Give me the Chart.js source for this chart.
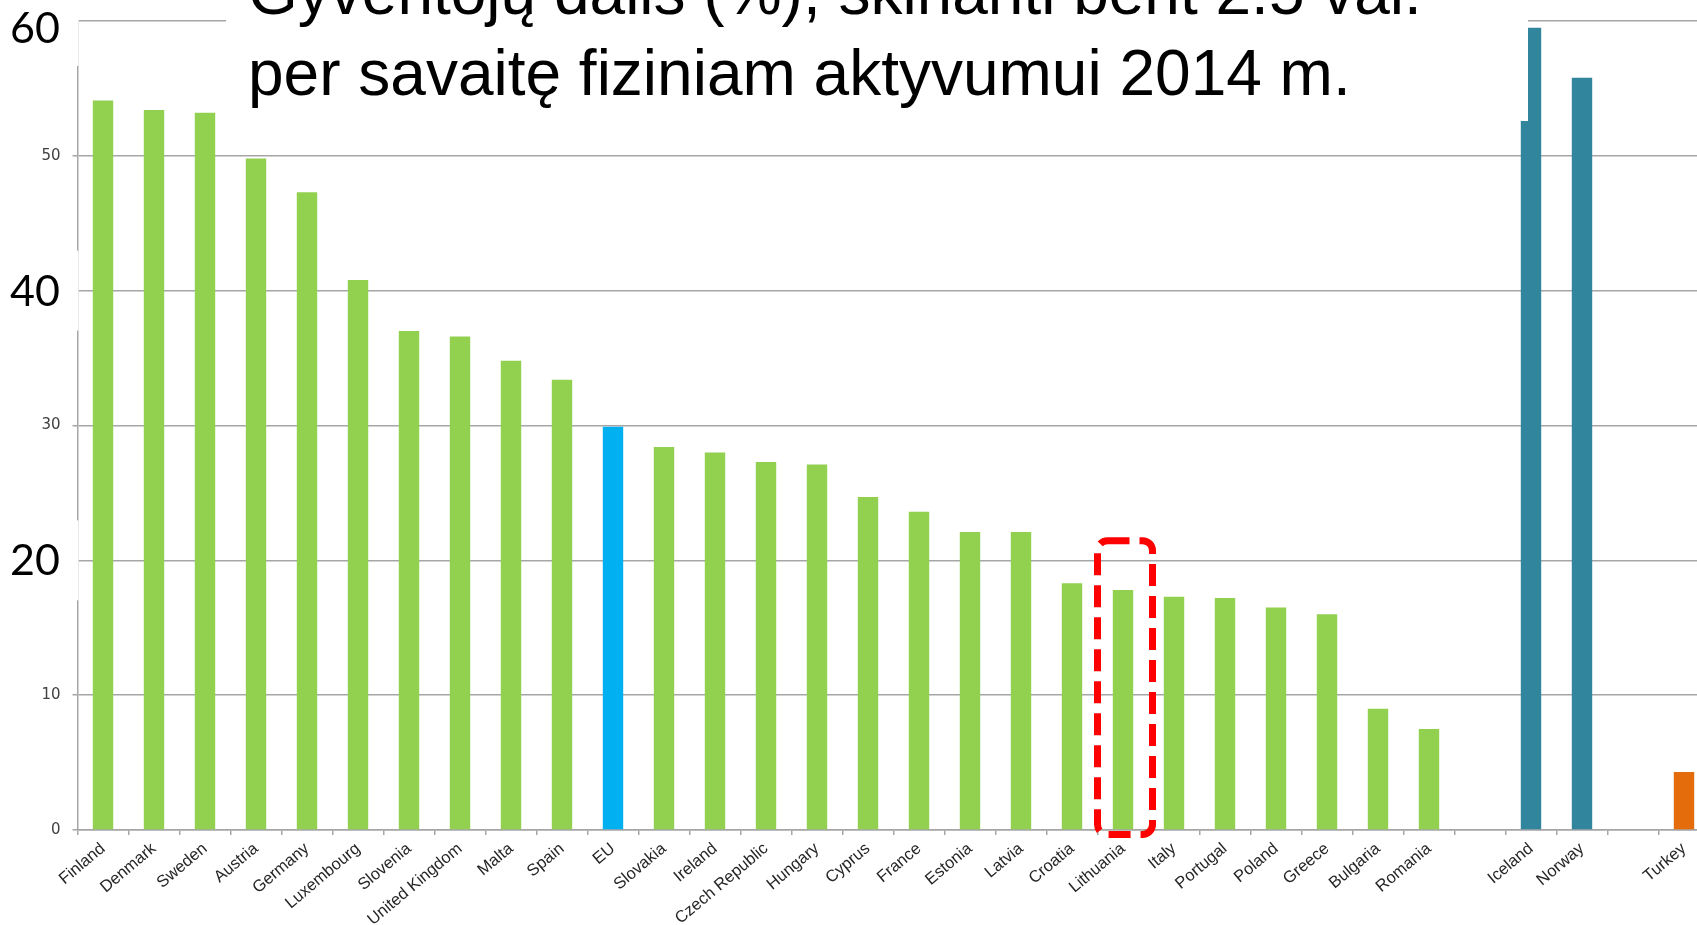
<!DOCTYPE html>
<html lang="lt">
<head>
<meta charset="utf-8">
<title>Fizinis aktyvumas 2014 m.</title>
<script src="https://cdn.jsdelivr.net/npm/chart.js@4.4.1/dist/chart.umd.min.js"></script>
<style>
    html, body { margin: 0; padding: 0; background: #fff; overflow: hidden; }
    #wrap { width: 1712px; height: 925px; }
</style>
</head>
<body>
<div id="wrap"><canvas id="chartAktyvumas" width="1712" height="925"></canvas></div>
<script>
// duomenys
const salys = [
    'Finland', 'Denmark', 'Sweden', 'Austria', 'Germany', 'Luxembourg', 'Slovenia',
    'United Kingdom', 'Malta', 'Spain', 'EU', 'Slovakia', 'Ireland', 'Czech Republic',
    'Hungary', 'Cyprus', 'France', 'Estonia', 'Latvia', 'Croatia', 'Lithuania', 'Italy',
    'Portugal', 'Poland', 'Greece', 'Bulgaria', 'Romania', '', 'Iceland', 'Norway', '', 'Turkey'
];
const procentai = [
    54.1, 53.4, 53.2, 49.8, 47.3, 40.8, 37.0,
    36.6, 34.8, 33.4, 29.9, 28.4, 28.0, 27.3,
    27.1, 24.7, 23.6, 22.1, 22.1, 18.3, 17.8, 17.3,
    17.2, 16.5, 16.0, 9.0, 7.5, null, 59.5, 55.8, null, 4.3
];
const asiesZingsnis = 10;
const asiesMax = 60;
const dideliosZymes = [20, 40, 60];
const pavadinimas = [
    'Gyventojų dalis (%), skirianti bent 2.5 val.',
    'per savaitę fiziniam aktyvumui 2014 m.'
];
const paryskinta = 'Lithuania';

const ES = ['EU'];
const EEE = ['Iceland', 'Norway'];
const kandidates = ['Turkey'];

const spalva = (salis) => {
    if (ES.includes(salis)) return '#00b0f0';
    if (EEE.includes(salis)) return '#31859c';
    if (kandidates.includes(salis)) return '#e46c0a';
    return '#92d050';
};

const pilka = '#a6a6a6';

const uzdangos = {
    id: 'uzdangos',
    afterDraw(chart) {
        const { ctx } = chart;
        const x = chart.scales.x;
        const y = chart.scales.y;
        ctx.save();

        // pavadinimo langelis uzdengia grafiko virsu
        ctx.fillStyle = '#ffffff';
        ctx.fillRect(226, 0, 1302, 121);
        ctx.fillStyle = '#000000';
        ctx.font = '64px "Liberation Sans", Arial, sans-serif';
        ctx.textAlign = 'left';
        ctx.textBaseline = 'alphabetic';
        ctx.fillText(pavadinimas[0], 248, 14);
        ctx.fillText(pavadinimas[1], 248, 95);

        // didelės ašies žymės
        dideliosZymes.forEach(v => {
            const py = y.getPixelForValue(v);
            const virsus = v === asiesMax ? 0 : py - 40;
            const apacia = v === asiesMax ? 66 : py + 40;
            ctx.fillStyle = '#ffffff';
            ctx.fillRect(0, virsus, 78.5, apacia - virsus);
            ctx.fillStyle = '#000000';
            ctx.font = '43px Lato, "Open Sans", sans-serif';
            ctx.textAlign = 'right';
            ctx.textBaseline = 'middle';
            ctx.fillText(String(v), 60, Math.max(py + 1, 29));
        });

        // raudonas punktyrinis rėmelis
        const i = salys.indexOf(paryskinta);
        const cx = x.getPixelForValue(i);
        const top = y.getPixelForValue(21.46);
        const bottom = y.getPixelForValue(0) + 4.5;
        ctx.strokeStyle = '#ff0000';
        ctx.lineWidth = 7;
        ctx.setLineDash([22, 10]);
        ctx.beginPath();
        ctx.roundRect(cx - 25.5, top, 55, bottom - top, 10);
        ctx.stroke();

        ctx.restore();
    }
};

const canvas = document.getElementById('chartAktyvumas');
const ctx = canvas.getContext('2d');

const chartAktyvumas = new Chart(ctx, {
    type: 'bar',
    data: {
        labels: salys,
        datasets: [{
            label: 'Gyventojų dalis (%)',
            data: procentai,
            backgroundColor: salys.map(spalva),
            borderWidth: 0,
            barPercentage: 0.4,
            categoryPercentage: 1.0
        }]
    },
    options: {
        responsive: false,
        animation: false,
        devicePixelRatio: 1,
        layout: { padding: { top: 21, right: 2.5, left: 0, bottom: 0 } },
        plugins: {
            legend: { display: false },
            tooltip: { enabled: false },
            title: { display: false }
        },
        scales: {
            x: {
                afterFit: (s) => { s.height = 95; },
                grid: {
                    display: true,
                    drawOnChartArea: false,
                    drawTicks: true,
                    tickLength: 5,
                    color: pilka,
                    lineWidth: 1.5
                },
                border: { display: true, color: pilka, width: 1.5 },
                ticks: {
                    autoSkip: false,
                    maxRotation: 40,
                    minRotation: 40,
                    padding: 4,
                    color: '#262626',
                    font: { family: '"Liberation Sans", Arial, sans-serif', size: 16.5 }
                }
            },
            y: {
                min: 0,
                max: asiesMax,
                afterFit: (s) => { s.width = 77.5; },
                grid: {
                    color: pilka,
                    lineWidth: 1.5,
                    tickLength: 5
                },
                border: { display: true, color: pilka, width: 1.5 },
                ticks: {
                    stepSize: asiesZingsnis,
                    padding: 12,
                    color: '#404040',
                    font: { family: '"DejaVu Sans", Verdana, sans-serif', size: 15 }
                }
            }
        }
    },
    plugins: [uzdangos]
});
</script>
</body>
</html>
